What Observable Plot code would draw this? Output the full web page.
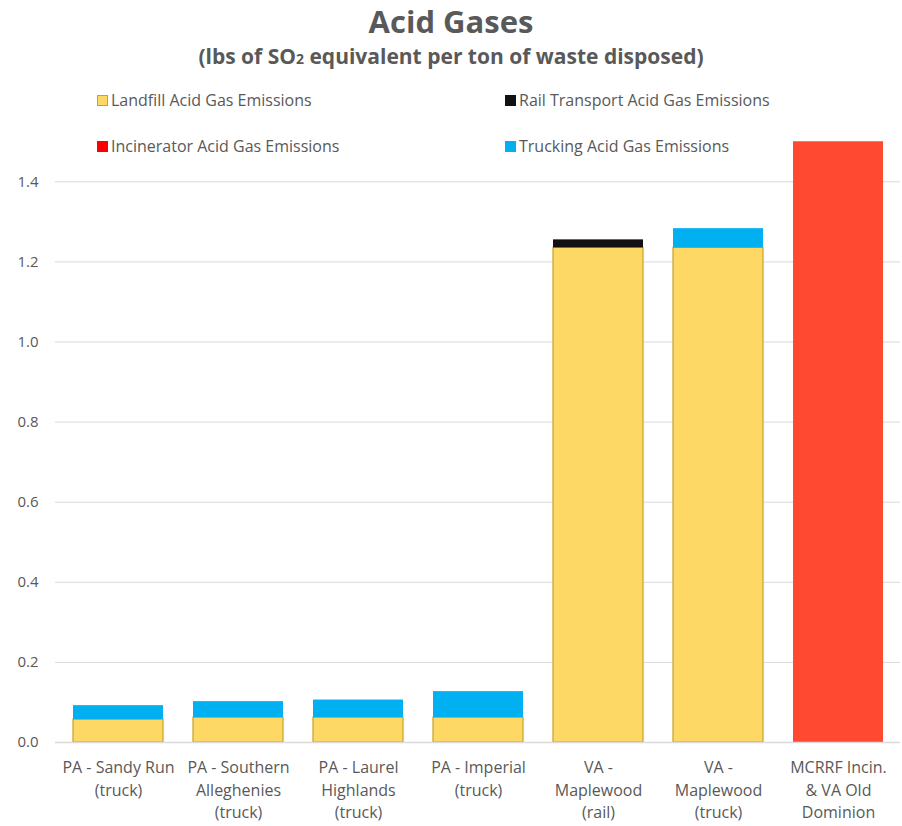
<!DOCTYPE html>
<html><head><meta charset="utf-8">
<script src="https://cdn.jsdelivr.net/npm/d3@7"></script>
<script src="https://cdn.jsdelivr.net/npm/@observablehq/plot@0.6"></script>
<style>
body{margin:0;background:#fff;}
#wrap{position:relative;width:902px;height:826px;font-family:"Open Sans",sans-serif;color:#595959;background:#fff;}
#title{position:absolute;top:0px;left:0;width:902px;text-align:center;font-size:31px;font-weight:bold;z-index:2;}
#sub{position:absolute;top:42px;left:0;width:902px;text-align:center;font-size:21px;font-weight:bold;z-index:2;}
#sub sub{font-size:14px;vertical-align:baseline;}
#legend{position:absolute;top:0;left:0;z-index:2;}
.lg{position:absolute;font-size:16px;display:flex;align-items:center;white-space:nowrap;}
.sw{width:11px;height:11px;margin-right:3px;box-sizing:border-box;}
#chart{position:absolute;top:130px;left:0;z-index:1;}
</style></head><body>
<div id="wrap">
<div id="title">Acid Gases</div>
<div id="sub">(lbs of SO<sub>2</sub> equivalent per ton of waste disposed)</div>
<div id="chart"></div>
<div id="legend"></div>
</div>
<script>
const categories = ["PA - Sandy Run (truck)","PA - Southern Alleghenies (truck)","PA - Laurel Highlands (truck)","PA - Imperial (truck)","VA - Maplewood (rail)","VA - Maplewood (truck)","MCRRF Incin. & VA Old Dominion"];
const tickLabels = ["PA - Sandy Run\n(truck)","PA - Southern\nAlleghenies\n(truck)","PA - Laurel\nHighlands\n(truck)","PA - Imperial\n(truck)","VA -\nMaplewood\n(rail)","VA -\nMaplewood\n(truck)","MCRRF Incin.\n& VA Old\nDominion"];
const seriesNames = ["Landfill Acid Gas Emissions","Rail Transport Acid Gas Emissions","Incinerator Acid Gas Emissions","Trucking Acid Gas Emissions"];
const landfill    = [0.057, 0.062, 0.062, 0.062, 1.235, 1.235, 0];
const rail        = [0, 0, 0, 0, 0.020, 0, 0];
const incinerator = [0, 0, 0, 0, 0, 0, 1.5];
const trucking    = [0.035, 0.040, 0.044, 0.065, 0, 0.048, 0];
const yTicks = [0, 0.2, 0.4, 0.6, 0.8, 1.0, 1.2, 1.4];

const barColors = {"Landfill Acid Gas Emissions":"#FDD865","Rail Transport Acid Gas Emissions":"#111111","Incinerator Acid Gas Emissions":"#FF4A31","Trucking Acid Gas Emissions":"#00B0F0"};
const legendColors = {"Landfill Acid Gas Emissions":"#FDD865","Rail Transport Acid Gas Emissions":"#111111","Incinerator Acid Gas Emissions":"#FF0000","Trucking Acid Gas Emissions":"#00B0F0"};

const seriesVals = [landfill, rail, incinerator, trucking];
const rows = [];
categories.forEach((c, i) => {
  seriesVals.forEach((arr, s) => { if (arr[i] > 0) rows.push({cat: c, series: seriesNames[s], value: arr[i]}); });
});

// legend
const lg = document.getElementById("legend");
const pos = [[97,89],[505,89],[97,135],[505,135]];
seriesNames.forEach((n, i) => {
  const d = document.createElement("div");
  d.className = "lg";
  d.style.left = pos[i][0] + "px"; d.style.top = pos[i][1] + "px";
  const border = i === 0 ? "1px solid #C9A227" : "none";
  d.innerHTML = `<div class="sw" style="background:${legendColors[n]};border:${border}"></div>${n}`;
  lg.appendChild(d);
});

const labelMap = new Map(categories.map((c, i) => [c, tickLabels[i]]));

const chart = Plot.plot({
  width: 902,
  height: 696,
  marginLeft: 55,
  marginRight: 2,
  marginTop: 11.25,
  marginBottom: 84,
  style: {fontFamily: '"Open Sans",sans-serif', color: "#595959", background: "transparent"},
  x: {domain: categories, paddingInner: 0.25, paddingOuter: 0.125, label: null},
  y: {domain: [0, 1.5], label: null},
  marks: [
    Plot.gridY(yTicks, {stroke: "#D9D9D9", strokeOpacity: 1}),
    Plot.barY(rows, Plot.stackY({
      x: "cat", y: "value", z: "series",
      fill: d => barColors[d.series],
      stroke: d => d.series === seriesNames[0] ? "#C9A227" : "none",
      strokeWidth: 1.2,
      inset: 0
    })),
    Plot.ruleY([0], {stroke: "#D9D9D9", strokeWidth: 1.5}),
    Plot.axisY(yTicks, {tickSize: 0, tickPadding: 17, tickFormat: d3.format(".1f"), fontSize: 15, fill: "#595959"}),
    Plot.axisX({tickSize: 0, tickPadding: 15, tickFormat: c => labelMap.get(c), fontSize: 16, lineHeight: 1.4, fill: "#595959"})
  ]
});
document.getElementById("chart").appendChild(chart);
</script>
</body></html>
